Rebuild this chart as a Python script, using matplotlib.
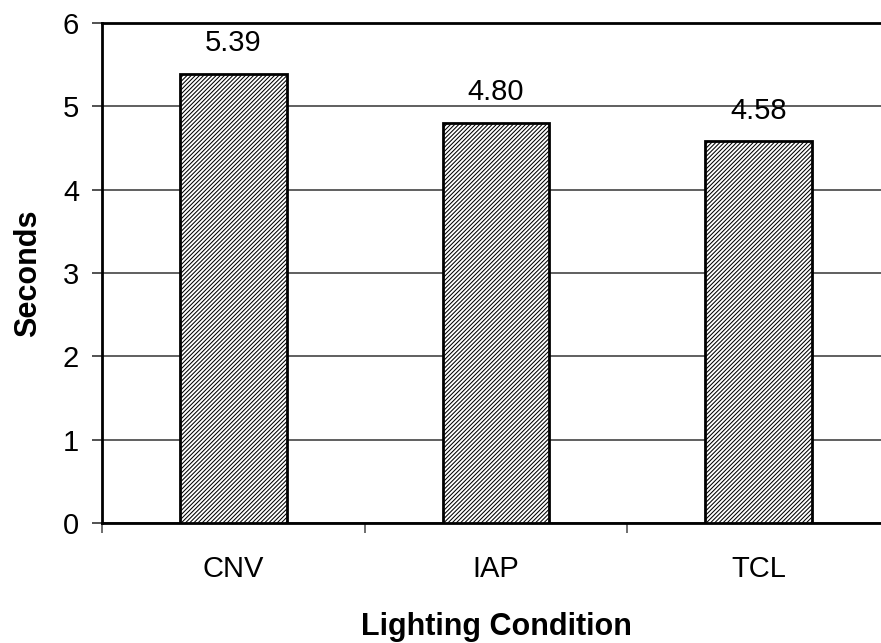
import matplotlib
matplotlib.use("Agg")
import matplotlib.pyplot as plt
from matplotlib.ticker import FixedLocator

categories = ["CNV", "IAP", "TCL"]
values = [5.39, 4.80, 4.58]
value_labels = ["5.39", "4.80", "4.58"]
yticks = [0, 1, 2, 3, 4, 5, 6]

plt.rcParams['font.family'] = ['Liberation Sans', 'DejaVu Sans']
plt.rcParams['hatch.linewidth'] = 0.75
plt.rcParams['hatch.color'] = '#111111'

fig = plt.figure(figsize=(8.81, 6.43), dpi=100)
ax = fig.add_axes([102/881, 1-523/643, 788/881, 500/643])

x = list(range(len(categories)))
bars = ax.bar(x, values, width=0.407, facecolor='white', edgecolor='black',
              linewidth=2, hatch='////////', zorder=3)

for xi, v, lab in zip(x, values, value_labels):
    ax.text(xi, v + 0.2, lab, ha='center', va='bottom', fontsize=21)

ax.set_xlim(-0.5, 2.5)
ax.set_ylim(0, 6)
ax.set_yticks(yticks)
ax.set_yticklabels([str(t) for t in yticks], fontsize=21)
ax.set_xticks(x)
ax.set_xticklabels(categories, fontsize=21)
ax.xaxis.set_minor_locator(FixedLocator([-0.5, 0.5, 1.5, 2.5]))
ax.tick_params(axis='x', which='major', length=0, pad=23)
ax.tick_params(axis='x', which='minor', length=7, width=1.2, color='#555555')
ax.tick_params(axis='y', length=7, width=1.2, color='#333333', pad=9.5)

ax.yaxis.grid(True, color='#444444', linewidth=1.2, zorder=0)
for s in ['left', 'top', 'bottom']:
    ax.spines[s].set_linewidth(2)
    ax.spines[s].set_color('black')
ax.spines['right'].set_visible(False)

ax.set_xlabel("Lighting Condition", fontsize=22, fontweight='bold', labelpad=21)
ax.set_ylabel("Seconds", fontsize=22, fontweight='bold', labelpad=14.5)

fig.savefig("out.png", dpi=100)
